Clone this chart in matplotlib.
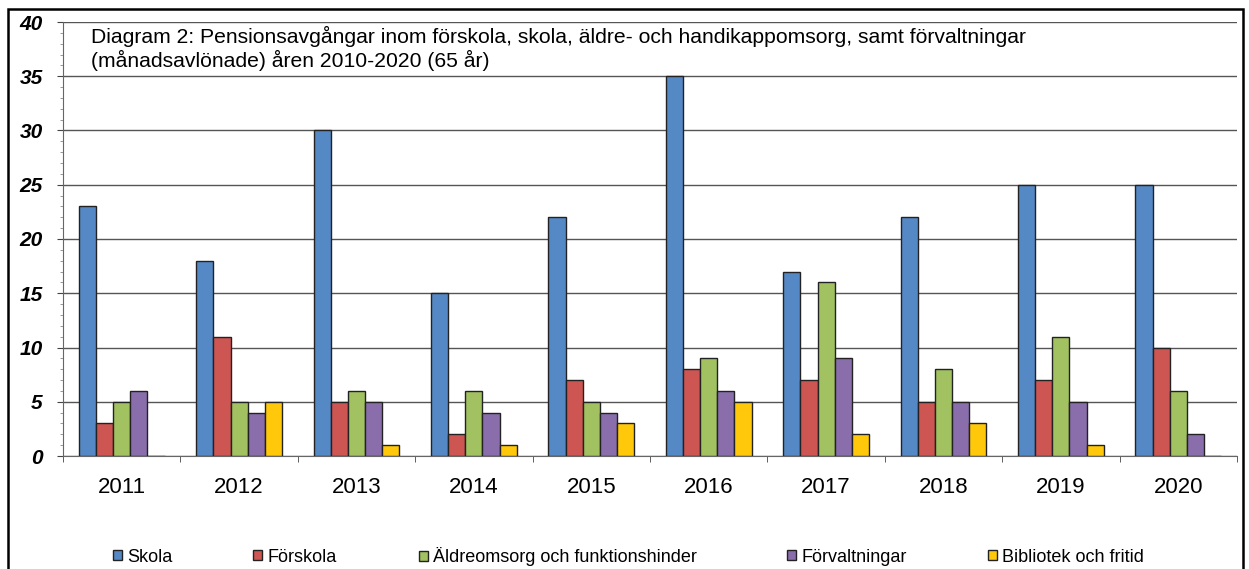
import matplotlib.pyplot as plt
import numpy as np
from matplotlib.patches import Rectangle

plt.rcParams["font.family"] = ["Liberation Sans", "DejaVu Sans"]

years = ["2011", "2012", "2013", "2014", "2015", "2016", "2017", "2018", "2019", "2020"]
series_names = ["Skola", "Förskola", "Äldreomsorg och funktionshinder", "Förvaltningar", "Bibliotek och fritid"]
skola = [23, 18, 30, 15, 22, 35, 17, 22, 25, 25]
forskola = [3, 11, 5, 2, 7, 8, 7, 5, 7, 10]
aldre = [5, 5, 6, 6, 5, 9, 16, 8, 11, 6]
forvaltning = [6, 4, 5, 4, 4, 6, 9, 5, 5, 2]
bibliotek = [0, 5, 1, 1, 3, 5, 2, 3, 1, 0]
colors = ["#5589c6", "#cd5653", "#a2c262", "#8a6dab", "#ffc80a"]

title_lines = ["Diagram 2: Pensionsavgångar inom förskola, skola, äldre- och handikappomsorg, samt förvaltningar",
               "(månadsavlönade) åren 2010-2020 (65 år)"]

W, H = 1249, 569
fig = plt.figure(figsize=(W / 100, H / 100), dpi=100)
ax = fig.add_axes([63 / W, 1 - 456 / H, (1237 - 63) / W, (456 - 22) / H])

x = np.arange(len(years))
width = 0.146
all_series = [skola, forskola, aldre, forvaltning, bibliotek]
handles = []
for i, (vals, name, col) in enumerate(zip(all_series, series_names, colors)):
    b = ax.bar(x + (i - 2) * width, vals, width, color=col, edgecolor="#222222",
               linewidth=1.0, label=name, zorder=3)
    handles.append(b)

ax.set_xlim(-0.5, len(years) - 0.5)
ax.set_ylim(0, 40)
ax.set_yticks(range(0, 41, 5))
ax.set_yticks(range(0, 41, 1), minor=True)
ax.set_xticks(x)
ax.set_xticklabels(years, fontsize=16)
ax.set_xticks(np.arange(-0.5, len(years)), minor=True)
ax.tick_params(axis="x", which="major", length=0, pad=15)
ax.tick_params(axis="x", which="minor", length=4.5, color="#444444")
ax.tick_params(axis="y", which="major", length=4.5, color="#444444", pad=10)
ax.tick_params(axis="y", which="minor", length=2.5, color="#888888")
for lbl in ax.get_yticklabels():
    lbl.set_fontsize(15)
    lbl.set_fontweight("bold")
    lbl.set_fontstyle("italic")

ax.grid(axis="y", color="#555555", linewidth=1.0, zorder=0)
for side in ["top", "right"]:
    ax.spines[side].set_visible(False)
ax.spines["left"].set_color("#666666")
ax.spines["bottom"].set_color("#666666")

for line, base in zip(title_lines, [43, 67]):
    fig.text(91 / W, 1 - base / H, line, fontsize=15.2, va="baseline", ha="left", zorder=5)

# legend entries are spread unevenly in the original, so place each one
legend_x = [113, 253, 419, 787, 988]
for h, name, lx in zip(handles, series_names, legend_x):
    fig.legend([h], [name], loc="center left", bbox_to_anchor=(lx / W, 1 - 557 / H),
               frameon=False, fontsize=13, handlelength=0.5, handleheight=0.5,
               handletextpad=0.3, borderpad=0, borderaxespad=0)

fig.add_artist(Rectangle((8 / W, -0.01), (1243 - 8) / W, 1 - 9 / H + 0.01,
                         transform=fig.transFigure, fill=False, edgecolor="black", linewidth=1.8))

fig.savefig("out.png", dpi=100)
